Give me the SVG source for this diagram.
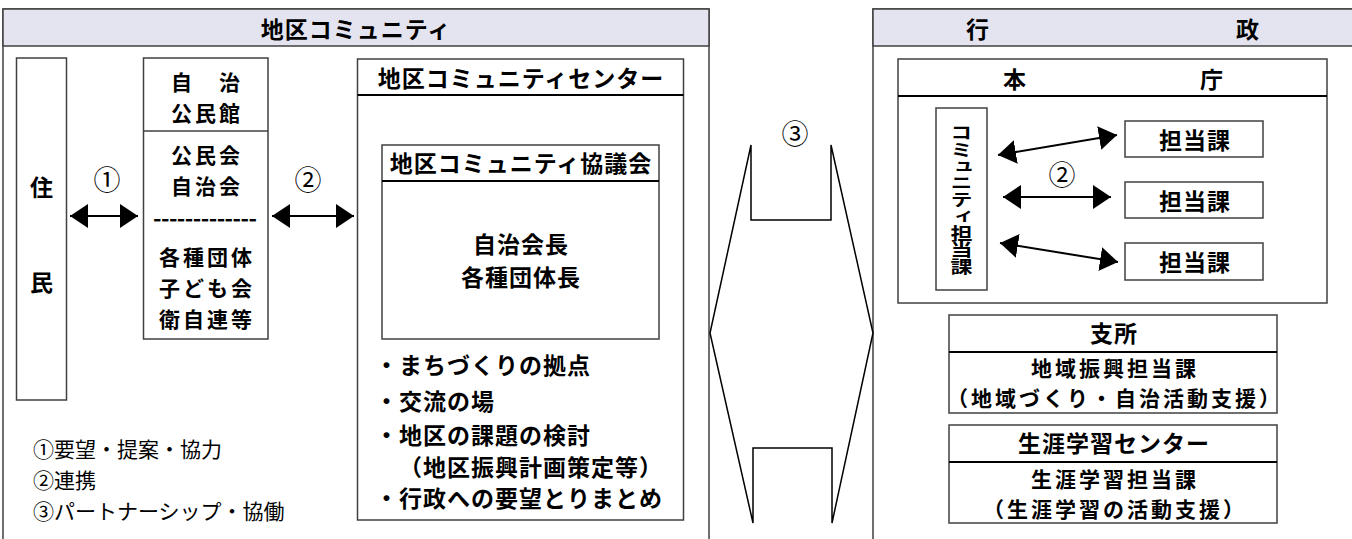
<svg xmlns="http://www.w3.org/2000/svg" width="1352" height="539" viewBox="0 0 1352 539">
<style>
.t{font-family:"Noto Sans CJK JP","Noto Sans",sans-serif;font-weight:bold;font-size:23px;letter-spacing:1px;fill:#000;dominant-baseline:central}
.s{font-size:21px;letter-spacing:3px}
.c{text-anchor:middle}
.r{font-family:"Noto Sans CJK JP","Noto Sans",sans-serif;font-weight:normal;font-size:21px;fill:#000;dominant-baseline:central}
.n{font-family:"Noto Sans CJK JP","Noto Sans",sans-serif;font-weight:normal;font-size:27px;fill:#000;dominant-baseline:central;text-anchor:middle}
.v{font-family:"Noto Sans CJK JP","Noto Sans",sans-serif;font-weight:bold;font-size:22px;letter-spacing:-0.5px;fill:#000;writing-mode:vertical-rl;text-orientation:upright}
.box{fill:#fff;stroke:#404040;stroke-width:1.5}
.hdr{fill:#e4e4f0;stroke:#404040;stroke-width:1.5}
.sep{stroke:#000;stroke-width:2}
.arr{stroke:#000;stroke-width:2;fill:none}
</style>
<defs>
<marker id="ah" markerUnits="userSpaceOnUse" markerWidth="18" markerHeight="24" refX="18" refY="12" orient="auto-start-reverse" viewBox="0 0 18 24">
<path d="M0,0 L18,12 L0,24 Z" fill="#000"/>
</marker>
</defs>

<g id="panel-community">
<rect class="box" x="3" y="9" width="706" height="540"/>
<rect class="hdr" x="3" y="9" width="706" height="37"/>
<text class="t c" x="356" y="28">地区コミュニティ</text>
</g>

<g id="panel-gyosei">
<rect class="box" x="873" y="9" width="490" height="540"/>
<rect class="hdr" x="873" y="9" width="490" height="37"/>
<text class="t c" x="978" y="28">行</text>
<text class="t c" x="1248" y="28">政</text>
</g>

<g id="node-jumin">
<rect class="box" x="16.5" y="58" width="50" height="342"/>
<text class="t c" x="42" y="186">住</text>
<text class="t c" x="42" y="281">民</text>
</g>

<g id="node-jichi">
<rect class="box" x="143.5" y="58" width="124.5" height="281"/>
<line x1="143.5" y1="131" x2="268" y2="131" stroke="#404040" stroke-width="1.5"/>
<text class="t s c" x="207" y="81">自　治</text>
<text class="t s c" x="207" y="112">公民館</text>
<text class="t s c" x="207" y="154">公民会</text>
<text class="t s c" x="207" y="185">自治会</text>
<text class="t" x="153" y="217" textLength="105" lengthAdjust="spacing">-------------</text>
<text class="t s c" x="207" y="256">各種団体</text>
<text class="t s c" x="207" y="287">子ども会</text>
<text class="t s c" x="207" y="318">衛自連等</text>
</g>

<g id="node-center">
<rect class="box" x="357.5" y="59" width="326" height="461"/>
<line class="sep" x1="357.5" y1="95" x2="683.5" y2="95"/>
<text class="t c" x="521" y="77">地区コミュニティセンター</text>
<text class="t" x="375" y="364">・まちづくりの拠点</text>
<text class="t" x="375" y="400">・交流の場</text>
<text class="t" x="375" y="434">・地区の課題の検討</text>
<text class="t" x="399" y="466">（地区振興計画策定等）</text>
<text class="t" x="375" y="497">・行政への要望とりまとめ</text>
</g>

<g id="node-kyogikai">
<rect class="box" x="382" y="145" width="277" height="194"/>
<line class="sep" x1="382" y1="181" x2="659" y2="181"/>
<text class="t c" x="521" y="162">地区コミュニティ協議会</text>
<text class="t c" x="521" y="243">自治会長</text>
<text class="t c" x="521" y="276">各種団体長</text>
</g>

<g id="legend">
<text class="r" x="33" y="448">①要望・提案・協力</text>
<text class="r" x="33" y="479">②連携</text>
<text class="r" x="33" y="510">③パートナーシップ・協働</text>
</g>

<g id="node-partnership">
<polygon points="751,145 751,220 831,220 831,145 873,333 832,523 832,448 753,448 753,523 710,333" fill="#fff" stroke="#000" stroke-width="1.5" stroke-linejoin="miter"/>
<text class="n" x="795" y="132">③</text>
</g>

<g id="node-honcho">
<rect class="box" x="898" y="59" width="429" height="244"/>
<line class="sep" x1="898" y1="96" x2="1327" y2="96"/>
<text class="t c" x="1015" y="78">本</text>
<text class="t c" x="1212" y="78">庁</text>
</g>

<g id="node-community-tanto">
<rect class="box" x="936" y="108" width="51" height="182"/>
<g transform="scale(1,0.78)">
<text class="v" x="961.5" y="159">コミュニティ担当課</text>
</g>
</g>

<g id="node-tanto1">
<rect class="box" x="1125" y="121" width="138" height="36"/>
<text class="t c" x="1195" y="139">担当課</text>
</g>
<g id="node-tanto2">
<rect class="box" x="1125" y="182" width="138" height="36"/>
<text class="t c" x="1195" y="200">担当課</text>
</g>
<g id="node-tanto3">
<rect class="box" x="1125" y="243" width="138" height="37"/>
<text class="t c" x="1195" y="261">担当課</text>
</g>

<g id="node-shisho">
<rect class="box" x="949" y="315" width="328" height="98"/>
<line class="sep" x1="949" y1="352" x2="1277" y2="352"/>
<text class="t c" x="1114" y="332">支所</text>
<text class="t s c" x="1115" y="367">地域振興担当課</text>
<text class="t s c" x="1115" y="397">（地域づくり・自治活動支援）</text>
</g>

<g id="node-shogai">
<rect class="box" x="949" y="425" width="328" height="98"/>
<line class="sep" x1="949" y1="462" x2="1277" y2="462"/>
<text class="t c" x="1114" y="442">生涯学習センター</text>
<text class="t s c" x="1115" y="478">生涯学習担当課</text>
<text class="t s c" x="1115" y="508">（生涯学習の活動支援）</text>
</g>

<g id="connectors">
<line class="arr" x1="70" y1="216" x2="138" y2="216" marker-start="url(#ah)" marker-end="url(#ah)"/>
<text class="n" x="107" y="178">①</text>
<line class="arr" x1="272" y1="216" x2="354" y2="216" marker-start="url(#ah)" marker-end="url(#ah)"/>
<text class="n" x="308" y="178">②</text>
<line class="arr" x1="998" y1="155" x2="1117" y2="135" marker-start="url(#ah)" marker-end="url(#ah)"/>
<line class="arr" x1="1003" y1="197" x2="1111" y2="197" marker-start="url(#ah)" marker-end="url(#ah)"/>
<line class="arr" x1="1000" y1="243" x2="1118" y2="262" marker-start="url(#ah)" marker-end="url(#ah)"/>
<text class="n" x="1062" y="173">②</text>
</g>
</svg>
